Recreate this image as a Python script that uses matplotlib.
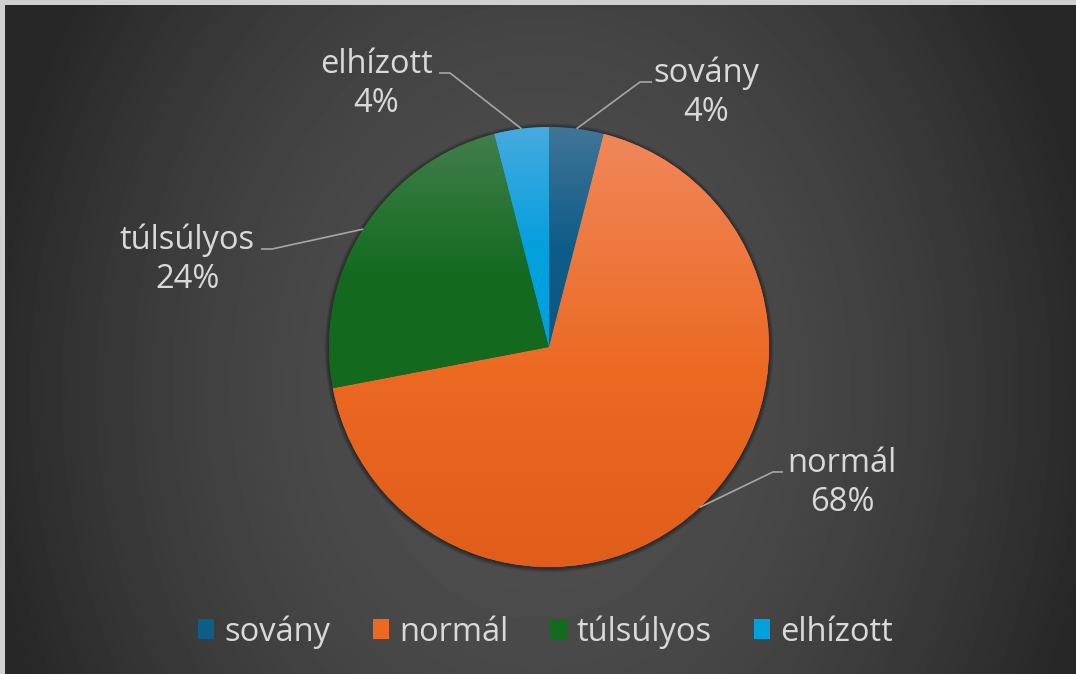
import numpy as np
import matplotlib.pyplot as plt
from matplotlib.colors import LinearSegmentedColormap
from matplotlib.patches import Circle, Patch

plt.rcParams['font.family'] = ['Open Sans', 'DejaVu Sans']

categories = ['sovány', 'normál', 'túlsúlyos', 'elhízott']
shares = [4, 68, 24, 4]
pct_labels = ['4%', '68%', '24%', '4%']

base_colors = ['#0E5C88', '#EC6922', '#146B20', '#03A0DE']
top_colors = ['#417598', '#F0875A', '#427E4B', '#47AADF']
bottom_colors = ['#0B5783', '#E05D1B', '#136A1F', '#00A0DF']

# label layout in pie units (radius 1): text centre x, name baseline y, elbow x, line end x
label_layout = [(0.714, 1.2045, 0.4136, 0.468),
                (1.332, -0.568, 1.018, 1.064),
                (-1.645, 0.4455, -1.259, -1.309),
                (-0.786, 1.2455, -0.45, -0.50)]

W, H = 1076, 674
R = 220.0            # pie radius, px
CX, CY = 549, 347    # pie centre, px from top-left
txt_col = '#D9D9D9'
line_col = '#A6A6A6'
fs = 23.5

fig = plt.figure(figsize=(W / 100, H / 100), dpi=100)
ax = fig.add_axes([0, 0, 1, 1])
xlim = (-CX / R, (W - CX) / R)
ylim = (-(H - CY) / R, CY / R)

# background: soft radial gradient + grey frame on top/left
yy, xx = np.mgrid[0:H, 0:W]
d = np.sqrt(((xx - 540) / 560.0) ** 2 + ((yy - 390) / 700.0) ** 2)
shade = (79 - 40 * np.clip(d, 0, 1) ** 2) / 255.0
shade[:5, :] = 0.815
shade[:, :5] = 0.815
ax.imshow(shade, cmap='gray', vmin=0, vmax=1, extent=(*xlim, *ylim),
          origin='upper', aspect='auto', zorder=0, interpolation='bilinear')

# soft shadow around the pie
for i in range(1, 6):
    ax.add_patch(Circle((0, -0.004), 1 + i * 0.004, color='black', alpha=0.09, lw=0, zorder=1))

wedges, _ = ax.pie(shares, colors=base_colors, startangle=90, counterclock=False,
                   radius=1, center=(0, 0), wedgeprops=dict(linewidth=0, zorder=2))

grad = np.linspace(0, 1, 256).reshape(-1, 1)
for w, c0, c1, c2 in zip(wedges, top_colors, base_colors, bottom_colors):
    w.set_zorder(2)
    v = w.get_path().vertices
    cmap = LinearSegmentedColormap.from_list('g', [(0, c0), (0.55, c1), (1, c2)])
    im = ax.imshow(grad, cmap=cmap, extent=(v[:, 0].min(), v[:, 0].max(), v[:, 1].min(), v[:, 1].max()),
                   origin='upper', aspect='auto', zorder=3, interpolation='bilinear')
    im.set_clip_path(w)

# data labels with leader lines
for w, name, pct, (tx, ty, ex, lx) in zip(wedges, categories, pct_labels, label_layout):
    mid = np.deg2rad((w.theta1 + w.theta2) / 2)
    ax.plot([np.cos(mid), ex, lx], [np.sin(mid), ty, ty], color=line_col, lw=1.2, zorder=4,
            solid_capstyle='butt')
    ax.text(tx, ty, name, ha='center', va='baseline', fontsize=fs, color=txt_col, zorder=5)
    ax.text(tx, ty - 39 / R, pct, ha='center', va='baseline', fontsize=fs, color=txt_col, zorder=5)

handles = [Patch(facecolor=c, edgecolor='none') for c in base_colors]
ax.legend(handles, categories, loc='center', bbox_to_anchor=(0.507, 1 - 632 / H), ncol=4,
          frameon=False, fontsize=fs, labelcolor=txt_col, handlelength=0.5, handleheight=0.55,
          handletextpad=0.3, columnspacing=1.3)

ax.set_xlim(*xlim)
ax.set_ylim(*ylim)
ax.axis('off')

fig.savefig('out.png', dpi=100)
